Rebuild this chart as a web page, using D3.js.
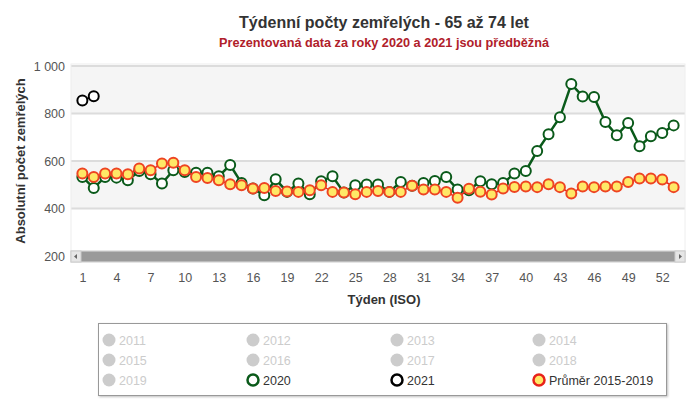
<!DOCTYPE html>
<html>
<head>
<meta charset="utf-8">
<script src="https://cdn.jsdelivr.net/npm/d3@7"></script>
<style>
  body { margin: 0; background: #fff; }
  svg { font-family: "Liberation Sans", Arial, sans-serif; }
</style>
</head>
<body>
<div id="chart"></div>
<script>
// týdny 1..53 (ISO)
const weeks = d3.range(1, 54);
const deaths2020 = [533, 486, 533, 530, 519, 558, 544, 505, 561, 554,
  551, 551, 536, 583, 507, 484, 456, 523, 470, 505,
  460, 515, 536, 467, 498, 501, 501, 470, 512, 496,
  507, 516, 533, 480, 477, 515, 502, 507, 547, 558,
  642, 713, 784, 924, 872, 869, 764, 708, 760, 662,
  704, 718, 750];
const deaths2021 = [855, 873];
const avg2015_2019 = [547, 533, 547, 547, 544, 568, 561, 589, 593, 561,
  533, 528, 519, 502, 498, 484, 486, 474, 472, 470,
  477, 498, 470, 467, 460, 470, 474, 470, 470, 496,
  480, 480, 470, 445, 483, 471, 459, 484, 491, 493,
  490, 502, 490, 463, 493, 490, 493, 493, 512, 526,
  526, 522, 490];
const yTicks = [200, 400, 600, 800, 1000];
const xTicks = [1, 4, 7, 10, 13, 16, 19, 22, 25, 28, 31, 34, 37, 40, 43, 46, 49, 52];
const legendYears = ["2011", "2012", "2013", "2014", "2015", "2016", "2017", "2018", "2019", "2020", "2021", "Průměr 2015-2019"];

const width = 700, height = 402;
const plotLeft = 71, plotRight = 685, plotTop = 66, plotBottom = 256;

const svg = d3.select("#chart").append("svg")
  .attr("width", width)
  .attr("height", height);

const x = d3.scaleLinear().domain([0, 54]).range([plotLeft, plotRight]);
const y = d3.scaleLinear().domain([200, 1000]).range([plotBottom, plotTop]);

// titulky
svg.append("text")
  .attr("x", 384).attr("y", 28)
  .attr("text-anchor", "middle")
  .style("font-size", "16px").style("font-weight", "bold").style("fill", "#333")
  .text("Týdenní počty zemřelých - 65 až 74 let");
svg.append("text")
  .attr("x", 384).attr("y", 47)
  .attr("text-anchor", "middle")
  .style("font-size", "12.7px").style("font-weight", "bold").style("fill", "#b0202a")
  .text("Prezentovaná data za roky 2020 a 2021 jsou předběžná");

// pásy pozadí
const bands = [[400, 600], [800, 1000]];
svg.append("g").selectAll("rect")
  .data(bands)
  .enter().append("rect")
  .attr("x", plotLeft)
  .attr("width", plotRight - plotLeft)
  .attr("y", d => y(d[1]))
  .attr("height", d => y(d[0]) - y(d[1]))
  .style("fill", "#f5f5f5");

// mřížka
svg.append("g").selectAll("line")
  .data(yTicks)
  .enter().append("line")
  .attr("x1", plotLeft).attr("x2", plotRight)
  .attr("y1", d => y(d)).attr("y2", d => y(d))
  .style("stroke", "#dcdcdc").style("stroke-width", 2);

svg.append("rect")
  .attr("x", plotLeft).attr("y", plotTop - 2)
  .attr("width", plotRight - plotLeft).attr("height", plotBottom - plotTop + 2)
  .style("fill", "none").style("stroke", "#eeeeee");

// osa y
const yAxis = svg.append("g")
  .attr("transform", `translate(${plotLeft},0)`)
  .call(d3.axisLeft(y).tickValues(yTicks).tickSize(0).tickPadding(6)
    .tickFormat(d => d >= 1000 ? d3.format(",")(d).replace(",", " ") : d));
yAxis.select(".domain").remove();
yAxis.selectAll("text").style("font-size", "12.5px").style("fill", "#555")
  .style("font-family", "Liberation Sans, Arial, sans-serif");

svg.append("text")
  .attr("transform", `translate(25,${(plotTop + plotBottom) / 2}) rotate(-90)`)
  .attr("text-anchor", "middle")
  .style("font-size", "13px").style("font-weight", "bold").style("fill", "#333")
  .text("Absolutní počet zemřelých");

// posuvník
const sb = svg.append("g");
sb.append("rect").attr("x", plotLeft).attr("y", 251).attr("width", plotRight - plotLeft).attr("height", 11)
  .style("fill", "#f2f2f2").style("stroke", "#cccccc");
sb.append("rect").attr("x", plotLeft + 10).attr("y", 251.5).attr("width", plotRight - plotLeft - 20).attr("height", 10)
  .style("fill", "#9a9a9a");
sb.append("rect").attr("x", plotLeft).attr("y", 251).attr("width", 10).attr("height", 11)
  .style("fill", "#e6e6e6").style("stroke", "#cccccc");
sb.append("rect").attr("x", plotRight - 10).attr("y", 251).attr("width", 10).attr("height", 11)
  .style("fill", "#e6e6e6").style("stroke", "#cccccc");
sb.append("path").attr("d", `M${plotLeft + 6},254 L${plotLeft + 3},256.5 L${plotLeft + 6},259 Z`).style("fill", "#666");
sb.append("path").attr("d", `M${plotRight - 6},254 L${plotRight - 3},256.5 L${plotRight - 6},259 Z`).style("fill", "#666");

// osa x
const xAxis = svg.append("g")
  .attr("transform", "translate(0,270)")
  .call(d3.axisBottom(x).tickValues(xTicks).tickSize(0).tickPadding(3));
xAxis.select(".domain").remove();
xAxis.selectAll("text").style("font-size", "12.5px").style("fill", "#555")
  .style("font-family", "Liberation Sans, Arial, sans-serif");

svg.append("text")
  .attr("x", 384).attr("y", 304)
  .attr("text-anchor", "middle")
  .style("font-size", "13px").style("font-weight", "bold").style("fill", "#333")
  .text("Týden (ISO)");

// řady
const line = d3.line()
  .x((d, i) => x(weeks[i]))
  .y(d => y(d));

function drawSeries(values, lineColor, lineWidth, fill, stroke) {
  const g = svg.append("g");
  g.append("path")
    .datum(values)
    .attr("d", line)
    .style("fill", "none")
    .style("stroke", lineColor)
    .style("stroke-width", lineWidth);
  g.selectAll("circle")
    .data(values)
    .enter().append("circle")
    .attr("cx", (d, i) => x(weeks[i]))
    .attr("cy", d => y(d))
    .attr("r", 5)
    .style("fill", fill)
    .style("stroke", stroke)
    .style("stroke-width", 2);
}

drawSeries(deaths2020, "#0a5a1a", 2.5, "#ffffff", "#0a5a1a");
drawSeries(avg2015_2019, "#e8221a", 1.5, "#ffe866", "#ee4422");
drawSeries(deaths2021, "#000000", 2, "#ffffff", "#000000");

// legenda
const legend = svg.append("g");
legend.append("rect")
  .attr("x", 98.5).attr("y", 323.5).attr("width", 568).attr("height", 72)
  .style("fill", "#fff").style("stroke", "#999")
  .style("filter", "drop-shadow(1px 1px 1px rgba(0,0,0,0.25))");

const colX = [109, 253, 397, 539];
const rowY = [340, 360, 380];
const legendStyle = {
  "2020": { fill: "#fff", stroke: "#0a5a1a", text: "#333" },
  "2021": { fill: "#fff", stroke: "#000", text: "#333" },
  "Průměr 2015-2019": { fill: "#ffe866", stroke: "#e8221a", text: "#333" }
};

const items = legend.selectAll("g.item")
  .data(legendYears)
  .enter().append("g")
  .attr("class", "item")
  .attr("transform", (d, i) => `translate(${colX[i % 4]},${rowY[Math.floor(i / 4)]})`);

items.append("circle")
  .attr("r", d => legendStyle[d] ? 5.5 : 6.5)
  .style("fill", d => legendStyle[d] ? legendStyle[d].fill : "#cccccc")
  .style("stroke", d => legendStyle[d] ? legendStyle[d].stroke : "none")
  .style("stroke-width", 2.5);

items.append("text")
  .attr("x", 10).attr("y", 4.5)
  .style("font-size", "12.5px")
  .style("fill", d => legendStyle[d] ? legendStyle[d].text : "#cccccc")
  .text(d => d);
</script>
</body>
</html>
